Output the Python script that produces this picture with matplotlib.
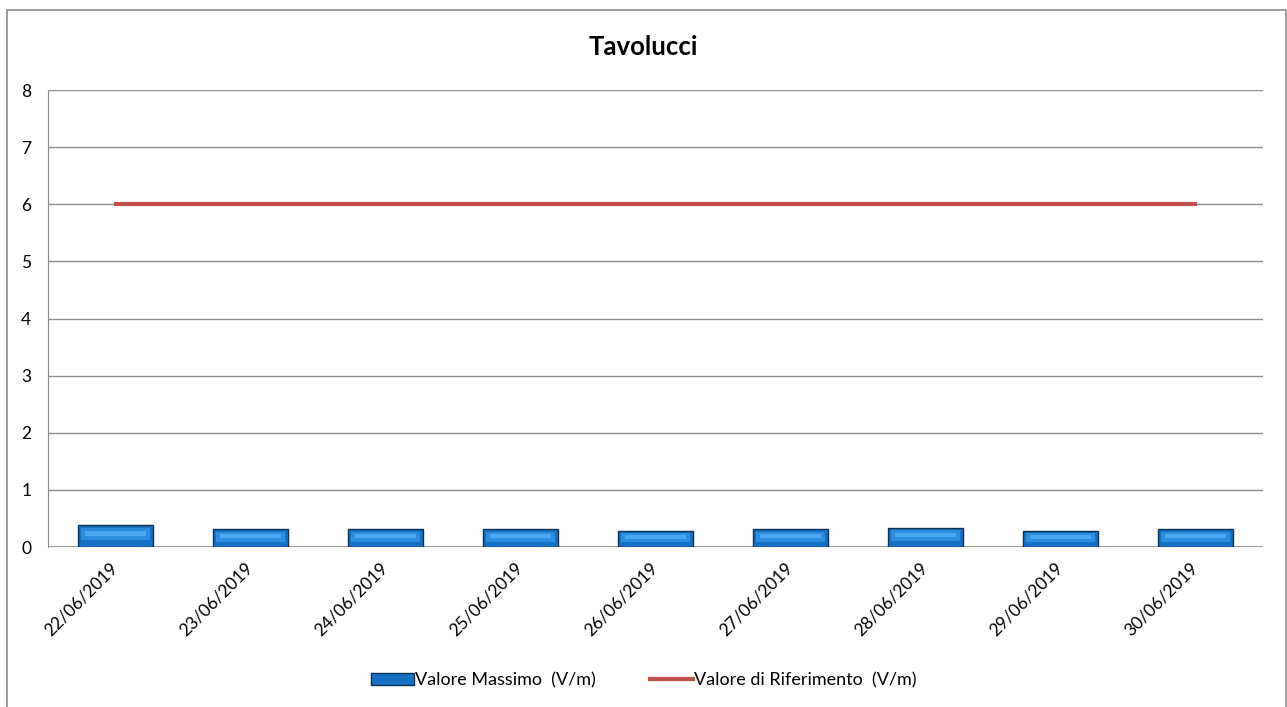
import matplotlib.pyplot as plt
from matplotlib.patches import Rectangle
from matplotlib.lines import Line2D

plt.rcParams['font.family'] = ['Lato', 'DejaVu Sans']

dates = ['22/06/2019', '23/06/2019', '24/06/2019', '25/06/2019', '26/06/2019',
         '27/06/2019', '28/06/2019', '29/06/2019', '30/06/2019']
valore_massimo = [0.39, 0.31, 0.31, 0.31, 0.28, 0.31, 0.34, 0.28, 0.31]
valore_riferimento = [6, 6, 6, 6, 6, 6, 6, 6, 6]

fig = plt.figure(figsize=(12.87, 7.07), dpi=100)
ax = fig.add_axes([0.0373, 0.2263, 0.944, 0.6464])

# outer chart frame
fig.patches.append(Rectangle((7 / 1287, -0.01), 1279 / 1287, 1 - 10 / 707 + 0.01,
                             transform=fig.transFigure, fill=False,
                             edgecolor='#8c8c8c', linewidth=1.2))

x = list(range(len(dates)))
width = 0.56
ax.bar(x, valore_massimo, width=width, color='#1670c4', edgecolor='#0d2f52',
       linewidth=1.0, zorder=3)
# lighter bands inside each bar for the bevelled look
for xi, v in zip(x, valore_massimo):
    ax.add_patch(Rectangle((xi - width * 0.46, v * 0.3), width * 0.92, v * 0.55,
                           facecolor='#2a8ddf', edgecolor='none', zorder=4))
    ax.add_patch(Rectangle((xi - width * 0.40, v * 0.5), width * 0.80, v * 0.22,
                           facecolor='#4aa8f0', edgecolor='none', zorder=4))
ax.plot(x, valore_riferimento, color='#c0504d', linewidth=3, zorder=5)

ax.set_xlim(-0.5, len(dates) - 0.5)
ax.set_ylim(0, 8)
ax.set_yticks(range(0, 9))
ax.yaxis.grid(True, color='#8c8c8c', linewidth=1)
ax.set_axisbelow(True)
for s in ['top', 'right', 'bottom']:
    ax.spines[s].set_visible(False)
ax.spines['left'].set_color('#8c8c8c')
ax.axhline(0, color='#8c8c8c', linewidth=1.2, zorder=2)
ax.tick_params(axis='both', length=0, labelsize=12.5)
ax.tick_params(axis='y', pad=12)
ax.set_xticks(x)
ax.set_xticklabels(dates, rotation=45, ha='right', va='center',
                   rotation_mode='anchor')
ax.tick_params(axis='x', pad=13)

fig.text(0.5, 0.933, 'Tavolucci', ha='center', va='center', fontsize=18.5,
         fontweight='bold')

handles = [Rectangle((0, 0), 1, 1, facecolor='#1670c4', edgecolor='#0d2f52'),
           Line2D([0], [0], color='#c0504d', linewidth=3)]
fig.legend(handles, ['Valore Massimo  (V/m)', 'Valore di Riferimento  (V/m)'],
           loc='center', bbox_to_anchor=(0.5, 0.038), ncol=2, frameon=False,
           fontsize=13, handlelength=2.4, handleheight=0.6,
           handletextpad=0.05, columnspacing=3.0)

fig.savefig('out.png', dpi=100)
